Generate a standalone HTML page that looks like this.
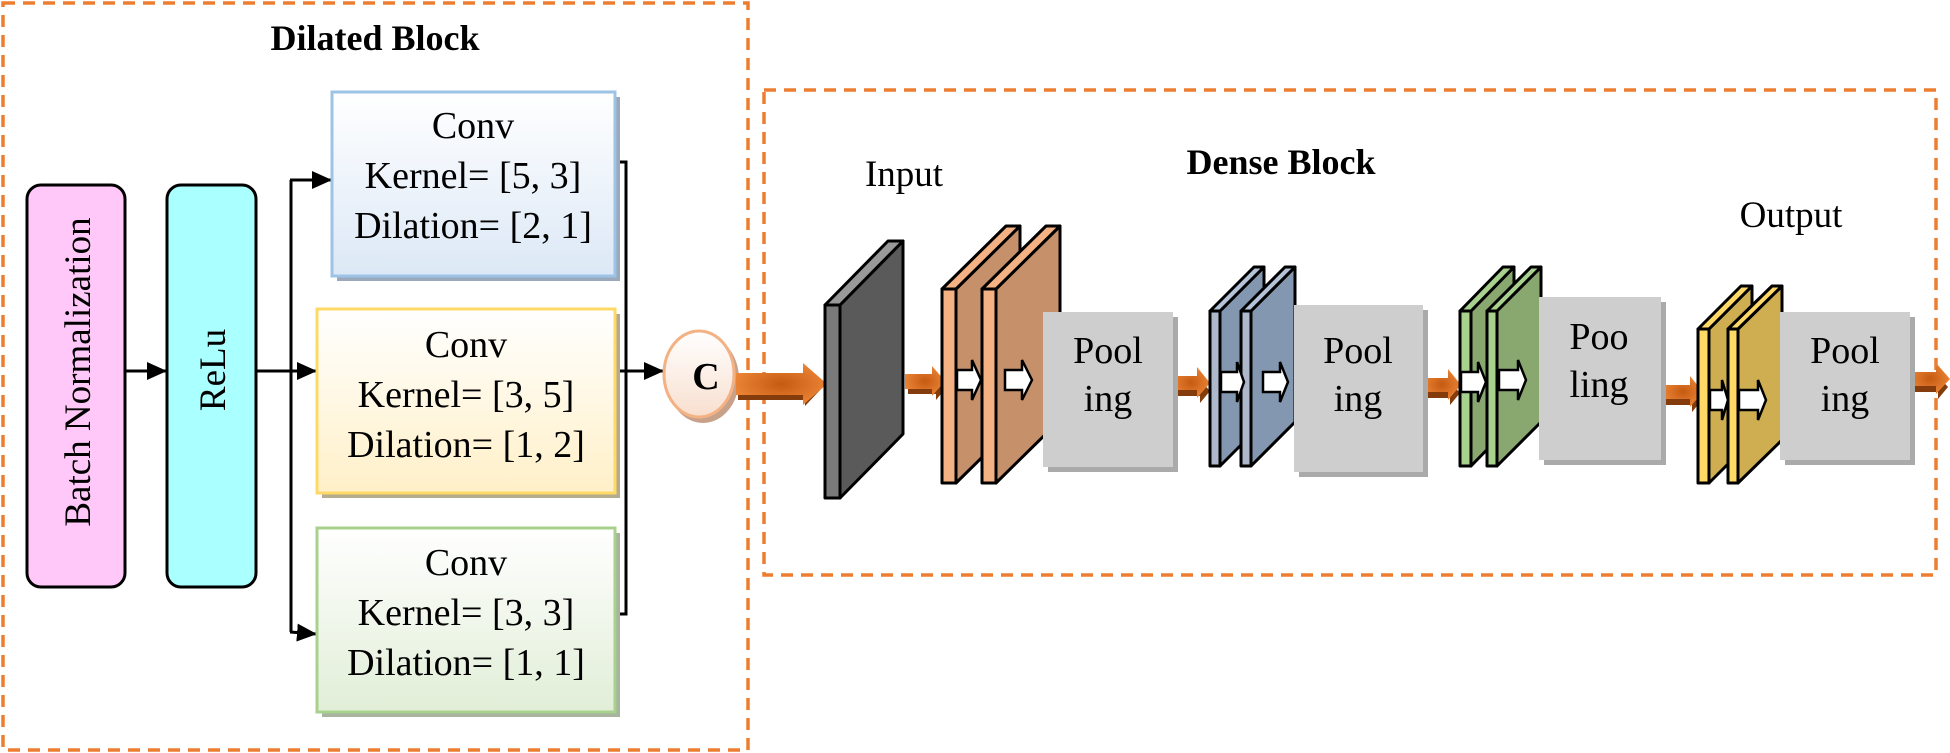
<!DOCTYPE html>
<html><head><meta charset="utf-8"><style>
html,body{margin:0;padding:0;background:#fff;}
svg{display:block;}
text{font-family:"Liberation Serif",serif;}
</style></head><body>
<svg width="1950" height="753" viewBox="0 0 1950 753" xmlns="http://www.w3.org/2000/svg">
<defs>
<linearGradient id="gb" x1="0" y1="0" x2="0" y2="1"><stop offset="0" stop-color="#ffffff"/><stop offset="1" stop-color="#dce8f6"/></linearGradient>
<linearGradient id="gy" x1="0" y1="0" x2="0" y2="1"><stop offset="0" stop-color="#ffffff"/><stop offset="1" stop-color="#fff0c8"/></linearGradient>
<linearGradient id="gg" x1="0" y1="0" x2="0" y2="1"><stop offset="0" stop-color="#ffffff"/><stop offset="1" stop-color="#e1eed7"/></linearGradient>
<linearGradient id="gc" x1="0" y1="0" x2="0" y2="1"><stop offset="0" stop-color="#ffffff"/><stop offset="1" stop-color="#f8dfcf"/></linearGradient>
<radialGradient id="go" cx="0.5" cy="0.5" r="0.6"><stop offset="0" stop-color="#c55a11"/><stop offset="1" stop-color="#f08a3c"/></radialGradient>
<marker id="ah" markerWidth="20" markerHeight="18" refX="19" refY="9" orient="auto" markerUnits="userSpaceOnUse" viewBox="0 0 20 18"><path d="M0,0 L20,9 L0,18 z" fill="#000"/></marker>
</defs>

<rect x="3" y="3" width="745" height="747" fill="none" stroke="#ed7d31" stroke-width="3.5" stroke-dasharray="12,8"/>
<rect x="764" y="90" width="1172" height="485" fill="none" stroke="#ed7d31" stroke-width="3.5" stroke-dasharray="12,8"/>

<text x="375" y="50" font-size="36" font-weight="bold" text-anchor="middle">Dilated Block</text>
<text x="1281" y="174" font-size="36" font-weight="bold" text-anchor="middle">Dense Block</text>
<text x="904" y="186" font-size="37" text-anchor="middle">Input</text>
<text x="1791" y="227" font-size="37" text-anchor="middle">Output</text>

<rect x="27" y="185" width="98" height="402" rx="14" fill="#ffc8f8" stroke="#000" stroke-width="3"/>
<text transform="translate(90,372) rotate(-90)" font-size="37" text-anchor="middle">Batch Normalization</text>
<rect x="167" y="185" width="89" height="402" rx="14" fill="#aaffff" stroke="#000" stroke-width="3"/>
<text transform="translate(225,370) rotate(-90)" font-size="37" text-anchor="middle">ReLu</text>

<line x1="125" y1="371" x2="166" y2="371" stroke="#000" stroke-width="3" marker-end="url(#ah)"/>
<line x1="256" y1="371" x2="316" y2="371" stroke="#000" stroke-width="3" marker-end="url(#ah)"/>
<line x1="291" y1="180" x2="291" y2="632" stroke="#000" stroke-width="3"/>
<line x1="290" y1="180" x2="331" y2="180" stroke="#000" stroke-width="3" marker-end="url(#ah)"/>
<line x1="290" y1="632" x2="316" y2="634" stroke="#000" stroke-width="3" marker-end="url(#ah)"/>
<polyline points="605,162 626,162 626,614 605,614" fill="none" stroke="#000" stroke-width="3"/>
<line x1="614" y1="371" x2="663" y2="371" stroke="#000" stroke-width="3" marker-end="url(#ah)"/>

<rect x="337" y="97" width="283" height="184" fill="#9aa9bb"/>
<rect x="332" y="92" width="283" height="184" fill="url(#gb)" stroke="#9dc3e6" stroke-width="3"/>
<text x="473" y="138" font-size="38" text-anchor="middle">Conv</text>
<text x="473" y="188" font-size="38" text-anchor="middle">Kernel= [5, 3]</text>
<text x="473" y="238" font-size="38" text-anchor="middle">Dilation= [2, 1]</text>

<rect x="322" y="314" width="298" height="184" fill="#b5ab8e"/>
<rect x="317" y="309" width="298" height="184" fill="url(#gy)" stroke="#ffd966" stroke-width="3"/>
<text x="466" y="357" font-size="38" text-anchor="middle">Conv</text>
<text x="466" y="407" font-size="38" text-anchor="middle">Kernel= [3, 5]</text>
<text x="466" y="457" font-size="38" text-anchor="middle">Dilation= [1, 2]</text>

<rect x="322" y="533" width="298" height="184" fill="#a8b3a0"/>
<rect x="317" y="528" width="298" height="184" fill="url(#gg)" stroke="#a9d18e" stroke-width="3"/>
<text x="466" y="575" font-size="38" text-anchor="middle">Conv</text>
<text x="466" y="625" font-size="38" text-anchor="middle">Kernel= [3, 3]</text>
<text x="466" y="675" font-size="38" text-anchor="middle">Dilation= [1, 1]</text>

<ellipse cx="703" cy="379" rx="36" ry="44" fill="#c8a18a"/>
<ellipse cx="699" cy="374" rx="35" ry="43" fill="url(#gc)" stroke="#f4b183" stroke-width="3"/>
<text x="706" y="389" font-size="38" font-weight="bold" text-anchor="middle">C</text>

<g>
<polygon points="738,380 805,380 805,372 822,388 805,406 805,400 738,400" fill="#843c0c"/>
<polygon points="736,373 803,373 803,363 827,384 803,405 803,395 736,395" fill="url(#go)"/>
</g>
<g>
<polygon points="908,386 936,386 936,378 946,388 936,400 936,394 908,394" fill="#843c0c"/>
<polygon points="905,374 932,374 932,366 945,381 932,396 932,389 905,389" fill="url(#go)"/>
</g>
<g>
<polygon points="1174,388 1200,388 1200,380 1210,391 1200,403 1200,396 1174,396" fill="#843c0c"/>
<polygon points="1172,376 1197,376 1197,367 1210,383 1197,398 1197,390 1172,390" fill="url(#go)"/>
</g>
<g>
<polygon points="1425,390 1450,390 1450,382 1460,393 1450,405 1450,398 1425,398" fill="#843c0c"/>
<polygon points="1423,378 1448,378 1448,369 1461,385 1448,400 1448,392 1423,392" fill="url(#go)"/>
</g>
<g>
<polygon points="1665,397 1692,397 1692,389 1702,400 1692,412 1692,405 1665,405" fill="#843c0c"/>
<polygon points="1663,385 1690,385 1690,376 1703,392 1690,407 1690,399 1663,399" fill="url(#go)"/>
</g>
<g>
<polygon points="1912,384 1938,384 1938,376 1948,387 1938,399 1938,392 1912,392" fill="#843c0c"/>
<polygon points="1910,372 1936,372 1936,363 1950,379 1936,394 1936,386 1910,386" fill="url(#go)"/>
</g>

<g stroke="#000" stroke-width="3" stroke-linejoin="round">
<polygon points="840,305 903,241 903,434 840,498" fill="#5a5a5a"/>
<polygon points="825,305 840,305 903,241 888,241" fill="#999"/>
<rect x="825" y="305" width="15" height="193" fill="#7a7a7a"/>
<polygon points="956,289 1020,226 1020,420 956,483" fill="#c5906a"/>
<polygon points="942,289 956,289 1020,226 1006,226" fill="#f4b183"/>
<rect x="942" y="289" width="14" height="194" fill="#f4b183"/>
<polygon points="996,289 1060,226 1060,420 996,483" fill="#c5906a"/>
<polygon points="982,289 996,289 1060,226 1046,226" fill="#f4b183"/>
<rect x="982" y="289" width="14" height="194" fill="#f4b183"/>
<polygon points="1220,311 1264,267 1264,422 1220,466" fill="#8497b0"/>
<polygon points="1210,311 1220,311 1264,267 1254,267" fill="#b4c3d8"/>
<rect x="1210" y="311" width="10" height="155" fill="#adb9ca"/>
<polygon points="1251,311 1295,267 1295,422 1251,466" fill="#8497b0"/>
<polygon points="1241,311 1251,311 1295,267 1285,267" fill="#b4c3d8"/>
<rect x="1241" y="311" width="10" height="155" fill="#adb9ca"/>
<polygon points="1471,311 1514,267 1514,422 1471,466" fill="#88a870"/>
<polygon points="1460,311 1471,311 1514,267 1503,267" fill="#a9d18e"/>
<rect x="1460" y="311" width="11" height="155" fill="#a9d18e"/>
<polygon points="1497,311 1541,267 1541,422 1497,466" fill="#88a870"/>
<polygon points="1487,311 1497,311 1541,267 1531,267" fill="#a9d18e"/>
<rect x="1487" y="311" width="10" height="155" fill="#a9d18e"/>
<polygon points="1709,329 1752,286 1752,440 1709,483" fill="#cfae52"/>
<polygon points="1698,329 1709,329 1752,286 1741,286" fill="#ffd966"/>
<rect x="1698" y="329" width="11" height="154" fill="#ffd966"/>
<polygon points="1738,329 1782,286 1782,440 1738,483" fill="#cfae52"/>
<polygon points="1728,329 1738,329 1782,286 1772,286" fill="#ffd966"/>
<rect x="1728" y="329" width="10" height="154" fill="#ffd966"/>
</g>

<g fill="#fff" stroke="#000" stroke-width="2.5">
<polygon points="957,370 972,370 972,360 981,380 972,400 972,390 957,390"/>
<polygon points="1005,370 1022,370 1022,360 1032,380 1022,400 1022,390 1005,390"/>
<polygon points="1221,372 1237,372 1237,362 1244,382 1237,402 1237,392 1221,392"/>
<polygon points="1263,372 1280,372 1280,362 1288,382 1280,402 1280,392 1263,392"/>
<polygon points="1461,372 1478,372 1478,362 1486,382 1478,402 1478,392 1461,392"/>
<polygon points="1499,370 1518,370 1518,360 1526,380 1518,400 1518,390 1499,390"/>
<polygon points="1710,390 1722,390 1722,380 1728,400 1722,420 1722,410 1710,410"/>
<polygon points="1739,390 1758,390 1758,380 1766,400 1758,420 1758,410 1739,410"/>
</g>

<g>
<rect x="1048" y="317" width="130" height="155" fill="#aaa"/>
<rect x="1043" y="312" width="130" height="155" fill="#cfcece"/>
<text x="1108" y="363" font-size="38" text-anchor="middle">Pool</text>
<text x="1108" y="411" font-size="38" text-anchor="middle">ing</text>

<rect x="1299" y="310" width="129" height="167" fill="#aaa"/>
<rect x="1294" y="305" width="129" height="167" fill="#cfcece"/>
<text x="1358" y="363" font-size="38" text-anchor="middle">Pool</text>
<text x="1358" y="411" font-size="38" text-anchor="middle">ing</text>

<rect x="1544" y="302" width="122" height="163" fill="#aaa"/>
<rect x="1539" y="297" width="122" height="163" fill="#cfcece"/>
<text x="1599" y="349" font-size="38" text-anchor="middle">Poo</text>
<text x="1599" y="397" font-size="38" text-anchor="middle">ling</text>

<rect x="1785" y="317" width="130" height="148" fill="#aaa"/>
<rect x="1780" y="312" width="130" height="148" fill="#cfcece"/>
<text x="1845" y="363" font-size="38" text-anchor="middle">Pool</text>
<text x="1845" y="411" font-size="38" text-anchor="middle">ing</text>
</g>
</svg>
</body></html>
